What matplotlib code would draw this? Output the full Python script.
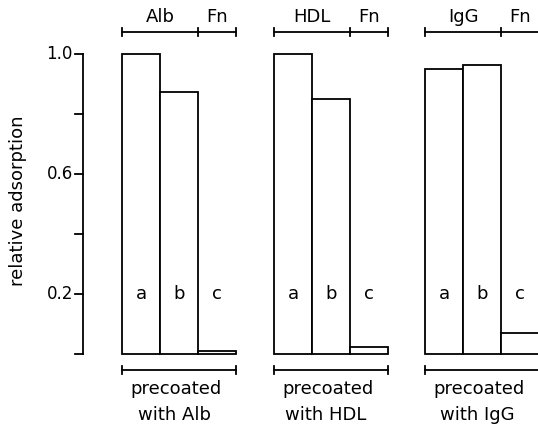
import numpy as np
from matplotlib import pyplot as plt

# relative adsorption, one list per precoating
groups = ['Alb', 'HDL', 'IgG']
bar_letters = ['a', 'b', 'c']
alb_values = [1.0, 0.873, 0.01]
hdl_values = [1.0, 0.85, 0.022]
igg_values = [0.95, 0.963, 0.071]
y_ticks = [0.0, 0.2, 0.4, 0.6, 0.8, 1.0]
y_ticklabels = {0.2: '0.2', 0.6: '0.6', 1.0: '1.0'}

all_values = [alb_values, hdl_values, igg_values]

fig = plt.figure(figsize=(5.38, 4.28), dpi=100)
ax = fig.add_axes([0, 0, 1, 1])
# x in pixels, y in data units (300 px per 1.0, zero at 354 px from top)
ax.set_xlim(0, 538)
ax.set_ylim(-74 / 300, 354 / 300)
ax.axis('off')

lw = 1.3
fs = 13

# y axis drawn by hand
axis_x = 83
ax.plot([axis_x, axis_x], [0, 1.0], color='black', lw=lw)
for t in y_ticks:
    ax.plot([axis_x - 8, axis_x], [t, t], color='black', lw=lw)
    if t in y_ticklabels:
        ax.text(axis_x - 10, t, y_ticklabels[t], ha='right', va='center', fontsize=12)
ax.text(18, 0.51, 'relative adsorption', rotation=90, ha='center', va='center', fontsize=fs)

bar_w = 38
group_left = [122, 274, 425]
tick_h = 0.014

for left, name, vals in zip(group_left, groups, all_values):
    xs = left + bar_w * np.arange(3)
    ax.bar(xs, vals, width=bar_w, align='edge', color='white',
           edgecolor='black', linewidth=lw)
    for x, letter in zip(xs, bar_letters):
        ax.text(x + bar_w / 2, 0.2, letter, ha='center', va='center', fontsize=fs)

    right = left + 3 * bar_w
    mid = left + 2 * bar_w
    # top bracket
    ytop = 1.073
    ax.plot([left, right], [ytop, ytop], color='black', lw=lw)
    for xv in (left, mid, right):
        ax.plot([xv, xv], [ytop - tick_h, ytop + tick_h], color='black', lw=lw)
    ax.text(left + bar_w, 1.123, name, ha='center', va='center', fontsize=fs)
    ax.text(left + 2.5 * bar_w, 1.123, 'Fn', ha='center', va='center', fontsize=fs)

    # bottom bracket
    ybot = -0.053
    ax.plot([left, right], [ybot, ybot], color='black', lw=lw)
    for xv in (left, right):
        ax.plot([xv, xv], [ybot - tick_h, ybot + tick_h], color='black', lw=lw)
    ax.text(left + 54, -0.118, 'precoated', ha='center', va='center', fontsize=fs)
    ax.text(left + 52, -0.203, 'with ' + name, ha='center', va='center', fontsize=fs)

fig.savefig('out.png', dpi=100)
